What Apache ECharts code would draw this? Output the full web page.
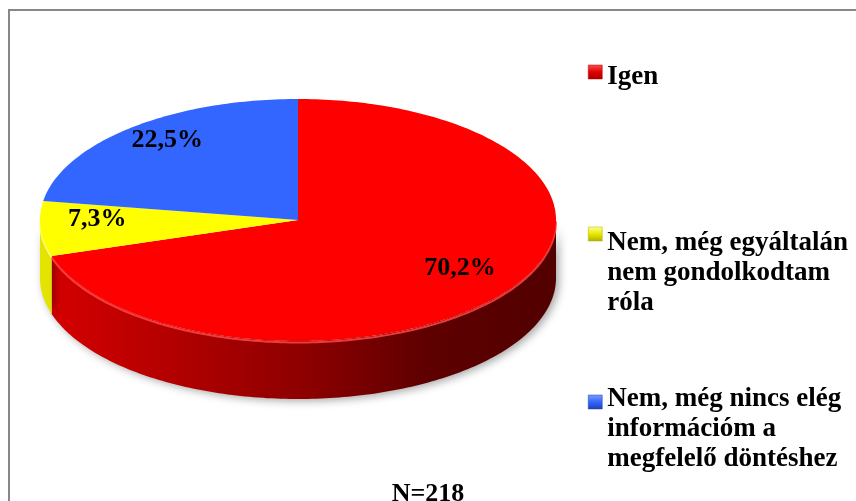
<!DOCTYPE html>
<html>
<head>
<meta charset="utf-8">
<script src="https://cdn.jsdelivr.net/npm/echarts@6/dist/echarts.min.js"></script>
<style>
  html, body { margin: 0; padding: 0; background: #fff; }
  #chart { width: 856px; height: 501px; }
</style>
</head>
<body>
<div id="chart"></div>
<script>
// válaszok megoszlása (%)
const categories = [
  'Igen',
  'Nem, még egyáltalán nem gondolkodtam róla',
  'Nem, még nincs elég információm a megfelelő döntéshez'
]
const legendLabels = [
  'Igen',
  'Nem, még egyáltalán\nnem gondolkodtam\nróla',
  'Nem, még nincs elég\ninformációm a\nmegfelelő döntéshez'
]
const values = [70.2, 7.3, 22.5]
const sampleText = 'N=218'

// színek: felső lap, oldalfal
const topColors = ['#ff0000', '#ffff00', '#3366ff']
const sideStops = [
  [[0, '#d80000'], [0.3, '#ac0000'], [0.52, '#8c0000'], [0.75, '#5e0000'], [1, '#520000']],
  [[0, '#e4e400'], [1, '#a8a800']],
  [[0, '#2a50d0'], [1, '#1a3080']]
]
const markerColors = [
  ['#ff5050', '#e00000', '#a80000'],
  ['#ffff90', '#e8e800', '#b0b000'],
  ['#7f9cff', '#3366ff', '#1f40b0']
]

// 3D torta geometria (képpont)
const cx = 298, cy = 220, rx = 258, ry = 121, depth = 58
const serif = '"Liberation Serif", "Times New Roman", serif'
const total = values.reduce((a, b) => a + b, 0)

function sliceRange(i) {
  // 12 órától, óramutató irányában
  let before = 0
  for (let k = 0; k < i; k++) before += values[k]
  const start = 90 - 360 * before / total
  const end = 90 - 360 * (before + values[i]) / total
  return [end, start]
}

function pt(a, dy) {
  const r = a * Math.PI / 180
  return [cx + rx * Math.cos(r), cy - ry * Math.sin(r) + (dy || 0)]
}

function arc(lo, hi, dy) {
  const pts = []
  const n = Math.max(2, Math.ceil(hi - lo))
  for (let k = 0; k <= n; k++) pts.push(pt(lo + (hi - lo) * k / n, dy))
  return pts
}

function renderSlice(params, api) {
  const i = params.seriesIndex
  const [lo, hi] = sliceRange(i)
  const children = []

  // elülső oldalfal
  for (let k = -1; k <= 1; k++) {
    const a = Math.max(lo, 180 + 360 * k)
    const b = Math.min(hi, 360 + 360 * k)
    if (b <= a) continue
    const top = arc(a, b, 0)
    const bottom = arc(a, b, depth).reverse()
    children.push({
      type: 'polygon',
      z2: 1,
      shape: { points: top.concat(bottom) },
      style: {
        fill: {
          type: 'linear', global: true,
          x: cx - rx, y: 0, x2: cx + rx, y2: 0,
          colorStops: sideStops[i].map(s => ({ offset: s[0], color: s[1] }))
        },
        shadowBlur: 8,
        shadowColor: 'rgba(0,0,0,0.35)',
        shadowOffsetX: 3,
        shadowOffsetY: 2
      }
    })
    children.push({
      type: 'polyline',
      z2: 2,
      shape: { points: arc(a, b, 1.5) },
      style: { stroke: i === 0 ? 'rgba(255,70,70,0.85)' : 'rgba(255,255,150,0.8)', lineWidth: 2, fill: null }
    })
  }

  // felső lap
  children.push({
    type: 'polygon',
    z2: 10,
    shape: { points: [[cx, cy]].concat(arc(lo, hi, 0)) },
    style: { fill: topColors[i] }
  })

  // címke
  const mid = (lo + hi) / 2
  const lp = pt(mid)
  const f = 0.78
  children.push({
    type: 'text',
    z2: 20,
    x: cx + (lp[0] - cx) * f,
    y: cy + (lp[1] - cy) * f - 8,
    style: {
      text: api.value(0).toFixed(1).replace('.', ',') + '%',
      font: 'bold 26px ' + serif,
      fill: '#000',
      align: 'center',
      verticalAlign: 'middle'
    }
  })
  return { type: 'group', children }
}

// többsoros jelmagyarázat: üres sorokkal toljuk le a szöveget a jelölőhöz
const legendGaps = [10, 39, 27]
const legendTops = [52, 150, 330]

function legendText(n) {
  const i = categories.indexOf(n)
  const label = legendLabels[i]
  const blanks = Math.max(1, label.split('\n').length - 1)
  return '{g| }\n'.repeat(blanks) + label
}

const option = {
  animation: false,
  backgroundColor: '#fff',
  textStyle: { fontFamily: serif },
  title: {
    text: sampleText,
    left: 'center',
    top: 481,
    padding: 0,
    textStyle: { fontFamily: serif, fontSize: 26, fontWeight: 'bold', color: '#000' }
  },
  graphic: [{
    type: 'rect',
    silent: true,
    shape: { x: 9, y: 10, width: 900, height: 600 },
    style: { fill: null, stroke: '#878787', lineWidth: 2 }
  }],
  legend: categories.map((name, i) => ({
    orient: 'vertical',
    left: 588,
    top: legendTops[i],
    padding: 0,
    selectedMode: false,
    itemWidth: 14,
    itemHeight: 14,
    icon: 'rect',
    formatter: legendText,
    textStyle: {
      fontFamily: serif,
      fontSize: 27,
      fontWeight: 'bold',
      color: '#000',
      lineHeight: 30,
      rich: { g: { fontSize: 8, lineHeight: legendGaps[i] } }
    },
    data: [{
      name,
      itemStyle: {
        color: {
          type: 'linear', x: 0, y: 0, x2: 0, y2: 1,
          colorStops: [
            { offset: 0, color: markerColors[i][0] },
            { offset: 0.5, color: markerColors[i][1] },
            { offset: 1, color: markerColors[i][2] }
          ]
        },
        borderColor: markerColors[i][2],
        borderWidth: 0.5
      }
    }]
  })),
  series: categories.map((name, i) => ({
    type: 'custom',
    name,
    coordinateSystem: 'none',
    itemStyle: { color: topColors[i] },
    renderItem: renderSlice,
    data: [[values[i]]]
  }))
}

const chart = echarts.init(document.getElementById('chart'))
chart.setOption(option)
</script>
</body>
</html>
